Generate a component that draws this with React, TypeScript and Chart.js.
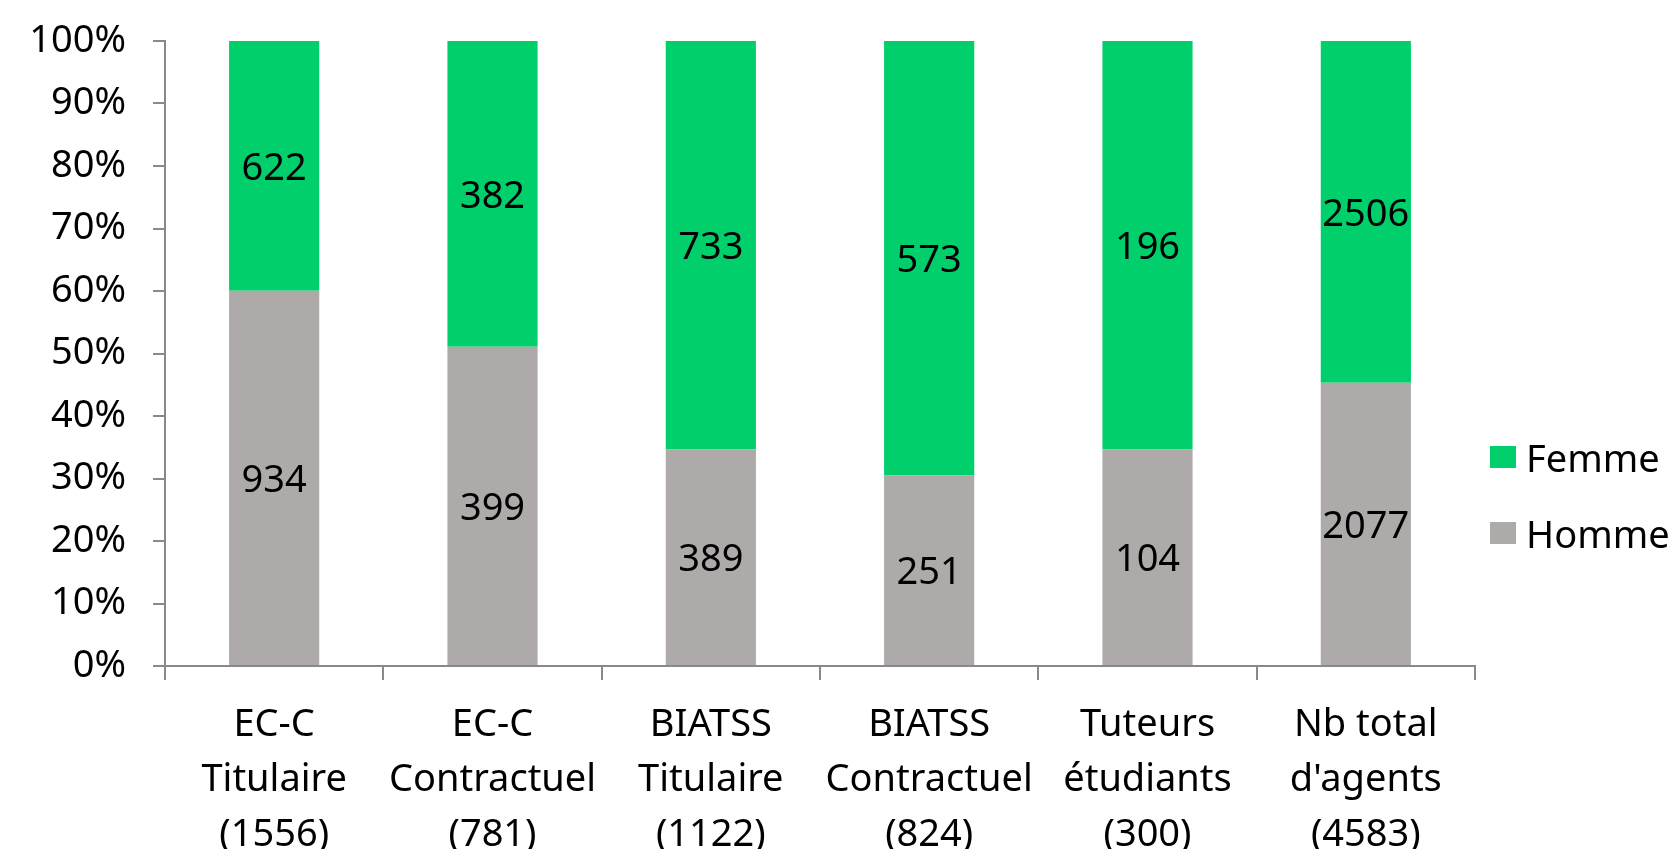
import React, { useEffect, useRef } from "react";
import { Chart, registerables } from "chart.js";

Chart.register(...registerables);

const categoryLines: string[][] = [
  ["EC-C", "Titulaire", "(1556)"],
  ["EC-C", "Contractuel", "(781)"],
  ["BIATSS", "Titulaire", "(1122)"],
  ["BIATSS", "Contractuel", "(824)"],
  ["Tuteurs", "étudiants", "(300)"],
  ["Nb total", "d'agents", "(4583)"],
];
const hommeCounts = [934, 399, 389, 251, 104, 2077];
const femmeCounts = [622, 382, 733, 573, 196, 2506];
const yTickValues = [0, 10, 20, 30, 40, 50, 60, 70, 80, 90, 100];

const FONT = "'Noto Sans', sans-serif";
const FS = 38;
const AXIS = "#898989";
const GRAY = "#AEAAAA";
const GREEN = "#00CF6C";

const toPct = (a: number[], b: number[]) => a.map((v, i) => (v / (v + b[i])) * 100);

const labelPlugin = {
  id: "segLabels",
  afterDatasetsDraw(chart: any) {
    const ctx = chart.ctx;
    ctx.save();
    ctx.font = `${FS}px ${FONT}`;
    ctx.fillStyle = "#000";
    ctx.textAlign = "center";
    ctx.textBaseline = "alphabetic";
    chart.data.datasets.forEach((ds: any, di: number) => {
      const meta = chart.getDatasetMeta(di);
      meta.data.forEach((bar: any, i: number) => {
        const yc = (bar.y + bar.base) / 2;
        ctx.fillText(String(ds.counts[i]), bar.x, yc + FS * 0.36);
      });
    });
    ctx.restore();
  },
};

const legendPlugin = {
  id: "sideLegend",
  afterDraw(chart: any) {
    const ctx = chart.ctx;
    ctx.save();
    ctx.font = `${FS}px ${FONT}`;
    ctx.textAlign = "left";
    ctx.textBaseline = "alphabetic";
    const items = [...chart.data.datasets].reverse();
    const x0 = chart.chartArea.right + 15;
    const yBase0 = 472;
    const step = 76;
    items.forEach((ds: any, k: number) => {
      const baseY = yBase0 + k * step;
      ctx.fillStyle = ds.backgroundColor;
      ctx.fillRect(x0, baseY - 26, 26, 22);
      ctx.fillStyle = "#000";
      ctx.fillText(ds.label, x0 + 36, baseY);
    });
    ctx.restore();
  },
};

export default function App() {
  const ref = useRef<HTMLCanvasElement | null>(null);
  useEffect(() => {
    if (!ref.current) return;
    const chart = new Chart(ref.current, {
      type: "bar",
      data: {
        labels: categoryLines,
        datasets: [
          {
            label: "Homme",
            data: toPct(hommeCounts, femmeCounts),
            counts: hommeCounts,
            backgroundColor: GRAY,
            barPercentage: 0.413,
            categoryPercentage: 1,
          } as any,
          {
            label: "Femme",
            data: toPct(femmeCounts, hommeCounts),
            counts: femmeCounts,
            backgroundColor: GREEN,
            barPercentage: 0.413,
            categoryPercentage: 1,
          } as any,
        ],
      },
      options: {
        animation: false,
        responsive: false,
        maintainAspectRatio: false,
        layout: { padding: { top: 41, right: 201, left: 0, bottom: 0 } },
        plugins: { legend: { display: false }, tooltip: { enabled: false } },
        scales: {
          x: {
            stacked: true,
            offset: true,
            grid: {
              offset: true,
              drawOnChartArea: false,
              drawTicks: true,
              tickLength: 14,
              color: AXIS,
              lineWidth: 2,
            },
            border: { display: true, color: AXIS, width: 2 },
            ticks: {
              color: "#000",
              font: { family: FONT, size: FS, lineHeight: 1.44 },
              padding: 18,
              maxRotation: 0,
              autoSkip: false,
            },
            afterFit: (s: any) => {
              s.height = 849 - 666;
              s.paddingLeft = 0;
              s.paddingRight = 0;
            },
          },
          y: {
            stacked: true,
            min: 0,
            max: 100,
            afterBuildTicks: (s: any) => {
              s.ticks = yTickValues.map((v) => ({ value: v }));
            },
            grid: {
              drawOnChartArea: false,
              drawTicks: true,
              tickLength: 12,
              color: AXIS,
              lineWidth: 2,
            },
            border: { display: true, color: AXIS, width: 2 },
            ticks: {
              color: "#000",
              font: { family: FONT, size: FS },
              padding: 27,
              callback: (v: any) => `${v}%`,
            },
            afterFit: (s: any) => {
              s.width = 165;
              s.paddingTop = 0;
              s.paddingBottom = 0;
            },
          },
        },
      },
      plugins: [labelPlugin, legendPlugin],
    } as any);
    return () => chart.destroy();
  }, []);
  return (
    <div style={{ position: "absolute", left: 0, top: 0, width: 1676, height: 849, background: "#fff" }}>
      <canvas ref={ref} width={1676} height={849} style={{ width: 1676, height: 849 }} />
    </div>
  );
}
